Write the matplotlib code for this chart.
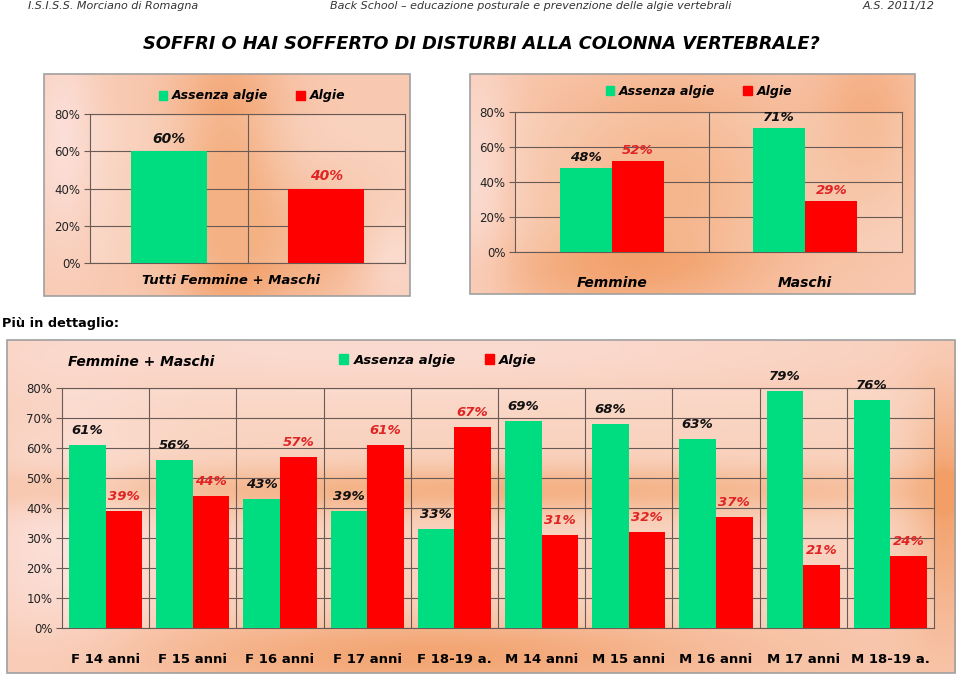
import numpy as np
import matplotlib
matplotlib.use("Agg")
import matplotlib.pyplot as plt
from matplotlib.patches import Patch, Rectangle

W, H = 960, 678

# data
tot_labels = ["Assenza algie", "Algie"]
tot_values = [60, 40]

sex_groups = ["Femmine", "Maschi"]
sex_assenza = [48, 71]
sex_algie = [52, 29]

age_groups = ["F 14 anni", "F 15 anni", "F 16 anni", "F 17 anni", "F 18-19 a.",
              "M 14 anni", "M 15 anni", "M 16 anni", "M 17 anni", "M 18-19 a."]
age_assenza = [61, 56, 43, 39, 33, 69, 68, 63, 79, 76]
age_algie = [39, 44, 57, 61, 67, 31, 32, 37, 21, 24]

yticks = [0, 20, 40, 60, 80]
yticks_fine = [0, 10, 20, 30, 40, 50, 60, 70, 80]

GREEN = "#00DD80"
RED = "#FF0000"
RED_TXT = "#E02424"
GRID = "#6a5a55"


def rect(x0, y0, x1, y1):
    return [x0 / W, 1 - y1 / H, (x1 - x0) / W, (y1 - y0) / H]


def panel_bg(fig, r, blobs):
    ax = fig.add_axes(r, zorder=0)
    h, w = 120, 240
    yy, xx = np.mgrid[0:1:h * 1j, 0:1:w * 1j]
    pink = np.array([0.99, 0.90, 0.89])
    orange = np.array([0.95, 0.62, 0.40])
    f = np.full((h, w), 0.4)
    for cx, cy, sx, sy, s in blobs:
        f += s * np.exp(-((xx - cx) / sx) ** 2 - ((yy - cy) / sy) ** 2)
    f = np.clip(f, 0, 1)[..., None]
    img = pink * (1 - f) + orange * f
    ax.imshow(img, aspect="auto", extent=[0, 1, 0, 1], interpolation="bicubic")
    ax.set_axis_off()
    ax.add_patch(Rectangle((0, 0), 1, 1, transform=ax.transAxes, fill=False,
                           edgecolor="#a0a0a0", lw=1.2, clip_on=False))
    return ax


def style_axes(ax, ticks):
    ax.set_facecolor((1, 1, 1, 0.2))
    ax.set_ylim(0, 80)
    ax.set_yticks(ticks)
    ax.set_yticklabels([f"{t}%" for t in ticks], fontsize=8.5, color="#222222")
    ax.yaxis.grid(True, color=GRID, lw=0.8)
    ax.set_axisbelow(True)
    for s in ax.spines.values():
        s.set_color(GRID)
        s.set_linewidth(0.8)
    ax.tick_params(axis="y", length=4, color=GRID, pad=3)
    ax.tick_params(axis="x", length=0)


def value_labels(ax, xs, vals, color, dy, size):
    for x, v in zip(xs, vals):
        ax.annotate(f"{v}%", (x, v), xytext=(0, dy), textcoords="offset points",
                    ha="center", va="bottom", fontsize=size, fontweight="bold",
                    fontstyle="italic", color=color)


def legend(fig, x, y, size=9.5):
    handles = [Patch(color=GREEN, label="Assenza algie"), Patch(color=RED, label="Algie")]
    fig.legend(handles=handles, loc="center", bbox_to_anchor=(x / W, 1 - y / H), ncol=2,
               frameon=False, handlelength=0.7, handleheight=0.7, handletextpad=0.4,
               columnspacing=2.2, prop={"size": size, "weight": "bold", "style": "italic"})


fig = plt.figure(figsize=(W / 100, H / 100), dpi=100)
fig.patch.set_facecolor("white")

# header
hdr = dict(fontsize=8, fontstyle="italic", color="#333333", va="center")
fig.text(28 / W, 1 - 6 / H, "I.S.I.S.S. Morciano di Romagna", ha="left", **hdr)
fig.text(531 / W, 1 - 6 / H,
         "Back School \u2013 educazione posturale e prevenzione delle algie vertebrali",
         ha="center", **hdr)
fig.text(935 / W, 1 - 6 / H, "A.S. 2011/12", ha="right", **hdr)
fig.text(481 / W, 1 - 44 / H, "SOFFRI O HAI SOFFERTO DI DISTURBI ALLA COLONNA VERTEBRALE?",
         ha="center", va="center", fontsize=12.8, fontweight="bold", fontstyle="italic")
fig.text(2 / W, 1 - 323 / H, "Più in dettaglio:", ha="left", va="center",
         fontsize=9.3, fontweight="bold")

# chart 1
panel_bg(fig, rect(44, 74, 410, 296),
         [(0.5, 0.5, 0.15, 0.7, 0.6), (0.75, 0.75, 0.25, 0.3, 0.35), (0.05, 0.3, 0.1, 0.5, -0.3),
          (0.95, 0.85, 0.12, 0.25, -0.3)])
ax1 = fig.add_axes(rect(90, 114, 405, 263), zorder=1)
x1 = np.arange(len(tot_values))
ax1.bar(x1, tot_values, width=0.48, color=[GREEN, RED], zorder=3)
ax1.set_xlim(-0.5, 1.5)
ax1.set_xticks([])
ax1.axvline(0.5, color=GRID, lw=0.8, zorder=1)
style_axes(ax1, yticks)
value_labels(ax1, x1[:1], tot_values[:1], "#111111", 4, 10)
value_labels(ax1, x1[1:], tot_values[1:], RED_TXT, 4, 10)
fig.text(231 / W, 1 - 280 / H, "Tutti Femmine + Maschi", ha="center", va="center",
         fontsize=9.5, fontweight="bold", fontstyle="italic")
legend(fig, 252, 96, 9)

# chart 2
panel_bg(fig, rect(470, 74, 915, 294),
         [(0.45, 0.5, 0.3, 0.5, 0.5), (0.9, 0.2, 0.12, 0.4, 0.35), (0.3, 0.9, 0.3, 0.2, 0.3),
          (0.02, 0.5, 0.08, 0.6, -0.3)])
ax2 = fig.add_axes(rect(515, 112, 902, 252), zorder=1)
x2 = np.arange(len(sex_groups))
bw2 = 0.27
ax2.bar(x2 - bw2 / 2, sex_assenza, width=bw2, color=GREEN, zorder=3)
ax2.bar(x2 + bw2 / 2, sex_algie, width=bw2, color=RED, zorder=3)
ax2.set_xlim(-0.5, 1.5)
ax2.set_xticks(x2)
ax2.set_xticklabels(sex_groups, fontsize=10, fontweight="bold", fontstyle="italic")
ax2.tick_params(axis="x", pad=17)
ax2.axvline(0.5, color=GRID, lw=0.8, zorder=1)
style_axes(ax2, yticks)
value_labels(ax2, x2 - bw2 / 2, sex_assenza, "#111111", 3, 9.5)
value_labels(ax2, x2 + bw2 / 2, sex_algie, RED_TXT, 3, 9.5)
legend(fig, 699, 91, 9)

# chart 3
panel_bg(fig, rect(7, 340, 955, 673),
         [(0.5, 0.45, 0.5, 0.07, 0.6), (0.45, 0.95, 0.3, 0.12, 0.5), (0.99, 0.5, 0.04, 0.35, 0.5),
          (0.05, 0.6, 0.1, 0.4, -0.3), (0.4, 0.02, 0.6, 0.15, -0.25)])
ax3 = fig.add_axes(rect(62, 388, 934, 628), zorder=1)
x3 = np.arange(len(age_groups))
bw3 = 0.42
ax3.bar(x3 - bw3 / 2, age_assenza, width=bw3, color=GREEN, zorder=3)
ax3.bar(x3 + bw3 / 2, age_algie, width=bw3, color=RED, zorder=3)
ax3.set_xlim(-0.5, len(age_groups) - 0.5)
ax3.set_xticks(x3)
ax3.set_xticklabels(age_groups, fontsize=9.5, fontweight="bold")
ax3.tick_params(axis="x", pad=18)
for b in x3[:-1] + 0.5:
    ax3.axvline(b, color=GRID, lw=0.8, zorder=1)
style_axes(ax3, yticks_fine)
value_labels(ax3, x3 - bw3 / 2, age_assenza, "#111111", 6, 9.5)
value_labels(ax3, x3 + bw3 / 2, age_algie, RED_TXT, 6, 9.5)
fig.text(68 / W, 1 - 362 / H, "Femmine + Maschi", ha="left", va="center",
         fontsize=10, fontweight="bold", fontstyle="italic")
legend(fig, 438, 360)

fig.savefig("out.png", dpi=100)
